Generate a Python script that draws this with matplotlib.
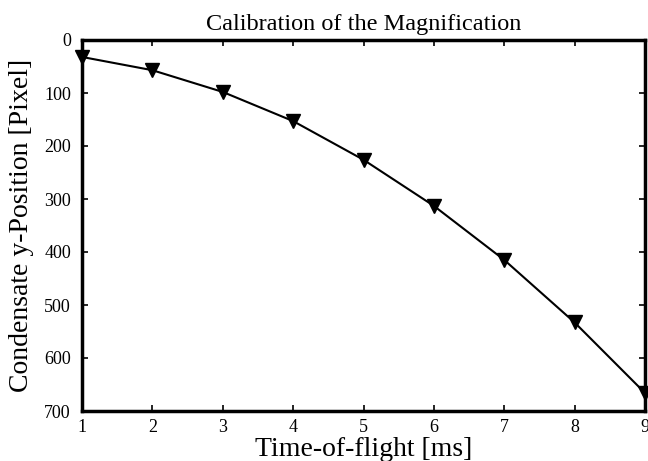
import matplotlib
matplotlib.use("Agg")
import matplotlib.pyplot as plt

# data
tof_ms = [1, 2, 3, 4, 5, 6, 7, 8, 9]
y_pos = [32, 57, 98, 153, 226, 313, 415, 533, 666]
xticks = [1, 2, 3, 4, 5, 6, 7, 8, 9]
yticks = [0, 100, 200, 300, 400, 500, 600, 700]

plt.rcParams['font.family'] = ['Liberation Serif', 'DejaVu Serif']

fig = plt.figure(figsize=(6.48, 4.61), dpi=100)
ax = fig.add_axes([82 / 648, 1 - 411 / 461, (645 - 82) / 648, (411 - 40) / 461])

ax.plot(tof_ms, y_pos, '-', color='black', linewidth=1.5)
ax.plot(tof_ms, y_pos, 'v', color='black', markersize=10, clip_on=False)

ax.set_xlim(1, 9)
ax.set_ylim(700, 0)
ax.set_xticks(xticks)
ax.set_yticks(yticks)
ax.tick_params(direction='in', top=True, right=True, length=4, width=1.2,
               labelsize=13)
ax.tick_params(axis='y', pad=8)
ax.tick_params(axis='x', pad=6)
for s in ax.spines.values():
    s.set_linewidth(2.5)

ax.set_title("Calibration of the Magnification", fontsize=17.5, pad=7)
ax.set_xlabel("Time-of-flight [ms]", fontsize=20, labelpad=0.5)
ax.set_ylabel("Condensate y-Position [Pixel]", fontsize=20, labelpad=7)

fig.savefig("out.png", dpi=100)
